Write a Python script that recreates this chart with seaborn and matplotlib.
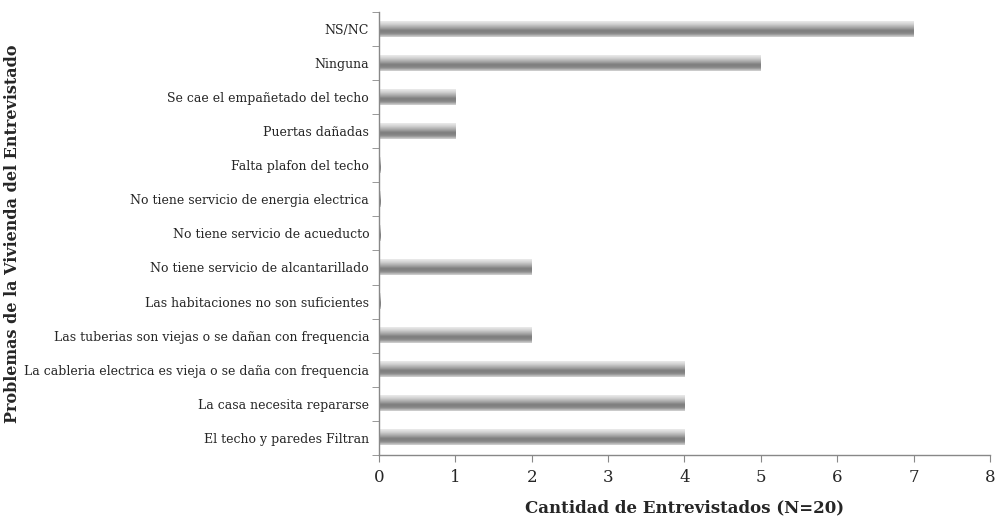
import numpy as np
import pandas as pd
import seaborn as sns
import matplotlib
import matplotlib.pyplot as plt
from matplotlib.colors import LinearSegmentedColormap

matplotlib.use("Agg")

# Données (de haut en bas)
problemas = [
    "NS/NC",
    "Ninguna",
    "Se cae el empañetado del techo",
    "Puertas dañadas",
    "Falta plafon del techo",
    "No tiene servicio de energia electrica",
    "No tiene servicio de acueducto",
    "No tiene servicio de alcantarillado",
    "Las habitaciones no son suficientes",
    "Las tuberias son viejas o se dañan con frequencia",
    "La cableria electrica es vieja o se daña con frequencia",
    "La casa necesita repararse",
    "El techo y paredes Filtran",
]
cantidad = [7, 5, 1, 1, 0, 0, 0, 2, 0, 2, 4, 4, 4]

df = pd.DataFrame({"problema": problemas, "cantidad": cantidad})

sns.set_style("white")
plt.rcParams["font.family"] = ["DejaVu Serif"]

fig = plt.figure(figsize=(9.97, 5.21), dpi=100)
ax = fig.add_axes([0.380, 0.127, 0.613, 0.850])

sns.barplot(data=df, x="cantidad", y="problema", color="#8a8a8a",
            width=0.45, ax=ax, orient="h")

# Dégradé gris façon Excel sur chaque barre
cmap = LinearSegmentedColormap.from_list(
    "cyl", ["#ececec", "#cfcfcf", "#a8a8a8", "#7c7c7c", "#8a8a8a", "#d6d6d6"])
grad = np.linspace(0, 1, 64).reshape(-1, 1)
for p in ax.patches:
    x0, y0 = p.get_x(), p.get_y()
    w, h = p.get_width(), p.get_height()
    w = max(w, 0.02)
    p.set_visible(False)
    ax.imshow(grad, cmap=cmap, aspect="auto", interpolation="bicubic",
              extent=(x0, x0 + w, y0 + h, y0), zorder=2)

ax.set_xlim(0, 8)
ax.set_ylim(len(problemas) - 0.5, -0.5)
ax.set_xticks(range(0, 9))
ax.tick_params(axis="x", labelsize=12, length=5, color="#888888",
               direction="out", bottom=True, pad=5)
ax.set_yticks(range(len(problemas)))
ax.set_yticks(np.arange(-0.5, len(problemas)), minor=True)
ax.tick_params(axis="y", which="major", length=0, labelsize=9, pad=7)
ax.tick_params(axis="y", which="minor", length=5, color="#888888",
               direction="out", left=True)

for s in ["top", "right"]:
    ax.spines[s].set_visible(False)
for s in ["left", "bottom"]:
    ax.spines[s].set_color("#888888")
    ax.spines[s].set_linewidth(1)

ax.set_xlabel("Cantidad de Entrevistados (N=20)", fontsize=12,
              fontweight="bold", labelpad=10)
ax.set_ylabel("Problemas de la Vivienda del Entrevistado", fontsize=11.5,
              fontweight="bold")
ax.yaxis.set_label_coords(-0.585, 0.5)

fig.savefig("out.png", dpi=100)
